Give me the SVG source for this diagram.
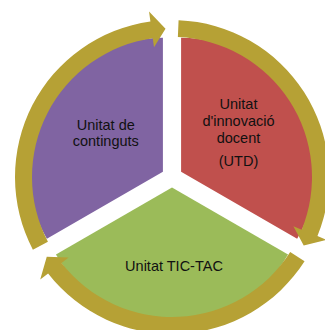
<svg xmlns="http://www.w3.org/2000/svg" width="325" height="330" viewBox="0 0 325 330">
<style>
.lbl{font-family:"Liberation Sans",Arial,sans-serif;font-size:14.5px;fill:#111;text-anchor:middle}
.arrow{fill:#B6A135}
</style>
<rect width="325" height="330" fill="#fff"/>
<g id="node-innovacio">
<path d="M181.09,171.75 L181.09,37.75 A134,134 0 0 1 297.14,238.75 Z" fill="#C0504D"/>
<text class="lbl" x="238.5" y="108.5">Unitat</text>
<text class="lbl" x="238.5" y="125.5">d'innovació</text>
<text class="lbl" x="238.5" y="142.5">docent</text>
<text class="lbl" x="238.5" y="166">(UTD)</text>
</g>
<g id="node-tic-tac">
<path d="M172,187.5 L288.05,254.5 A134,134 0 0 1 55.95,254.5 Z" fill="#9BBB59"/>
<text class="lbl" x="174" y="271">Unitat TIC-TAC</text>
</g>
<g id="node-continguts">
<path d="M162.91,171.75 L46.86,238.75 A134,134 0 0 1 162.91,37.75 Z" fill="#8064A2"/>
<text class="lbl" x="105.8" y="130">Unitat de</text>
<text class="lbl" x="105.8" y="145.5">continguts</text>
</g>
<g id="connectors">
<path class="arrow" d="M178.58,20.14 A157,157 0 0 1 317.47,236.07 L326.73,239.83 L303.72,245.57 L293.38,226.28 L301.71,229.67 A140,140 0 0 0 177.86,37.12 Z"/>
<path class="arrow" d="M304.56,261.13 A157,157 0 0 1 48.11,273.44 L40.22,279.59 L46.76,256.79 L68.63,257.47 L61.53,263.0 A140,140 0 0 0 290.21,252.02 Z"/>
<path class="arrow" d="M32.87,249.74 A157,157 0 0 1 150.42,21.49 L149.05,11.58 L165.52,28.64 L154.0,47.24 L152.76,38.33 A140,140 0 0 0 47.93,241.86 Z"/>
</g>
</svg>
